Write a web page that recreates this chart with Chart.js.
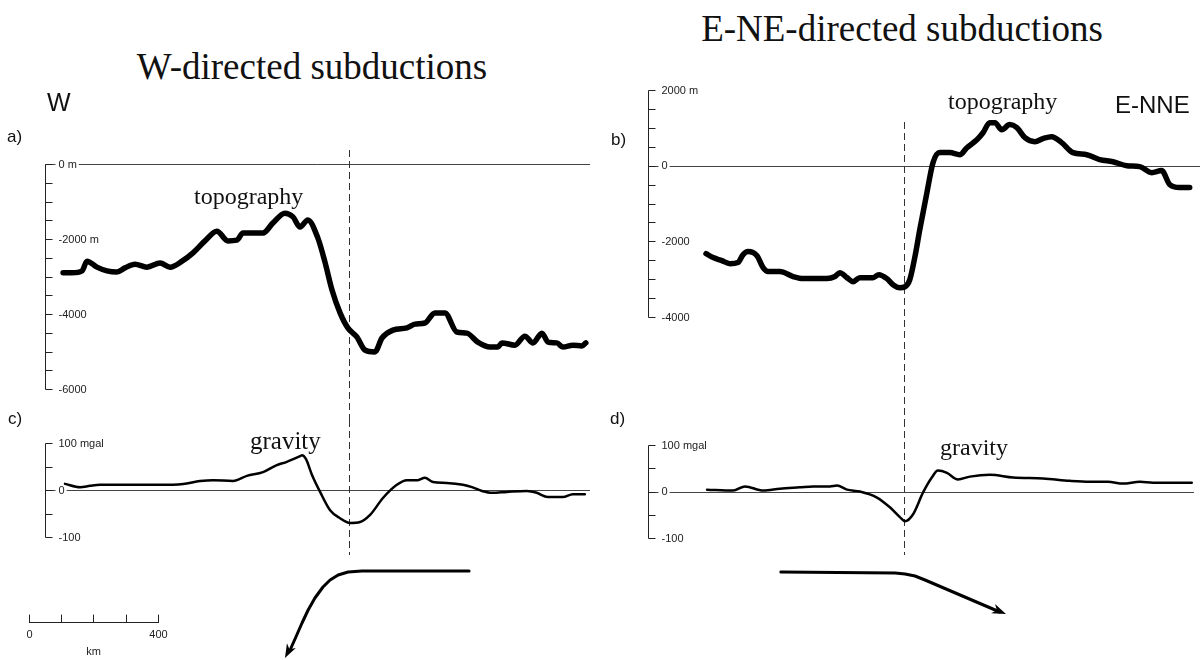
<!DOCTYPE html>
<html>
<head>
<meta charset="utf-8">
<script src="https://cdn.jsdelivr.net/npm/chart.js@4.4.1/dist/chart.umd.min.js"></script>
<style>
  html, body { margin: 0; padding: 0; background: #fff; }
  #page { position: relative; width: 1202px; height: 660px; overflow: hidden; font-family: "Liberation Sans", Arial, sans-serif; color: #111; }
  #page canvas { position: absolute; }
  .lbl { position: absolute; white-space: nowrap; line-height: 1; }
  .serif { font-family: "Liberation Serif", "Times New Roman", serif; }
  .mid { transform: translateX(-50%); }
</style>
</head>
<body>
<div id="page">
  <canvas id="topoW" width="600" height="310" style="left:0;top:110px"></canvas>
  <canvas id="gravW" width="600" height="240" style="left:0;top:420px"></canvas>
  <canvas id="topoE" width="602" height="340" style="left:600px;top:80px"></canvas>
  <canvas id="gravE" width="602" height="240" style="left:600px;top:420px"></canvas>

  <div class="lbl serif mid" style="left:312px;top:48px;font-size:37px">W-directed subductions</div>
  <div class="lbl serif mid" style="left:902px;top:10px;font-size:37px">E-NE-directed subductions</div>
  <div class="lbl" style="left:47px;top:90px;font-size:25px">W</div>
  <div class="lbl" style="left:1115px;top:93px;font-size:24px">E-NNE</div>
  <div class="lbl" style="left:7px;top:128px;font-size:17px">a)</div>
  <div class="lbl" style="left:611px;top:131px;font-size:17px">b)</div>
  <div class="lbl" style="left:8px;top:410px;font-size:17px">c)</div>
  <div class="lbl" style="left:610px;top:410px;font-size:17px">d)</div>
  <div class="lbl serif" style="left:194px;top:184px;font-size:24px">topography</div>
  <div class="lbl serif" style="left:948px;top:89px;font-size:24px">topography</div>
  <div class="lbl serif" style="left:250px;top:428px;font-size:25px">gravity</div>
  <div class="lbl serif" style="left:940px;top:435px;font-size:24px">gravity</div>
</div>

<script>
// distances in km from the left axis of each profile
const topoKmW = [56, 84, 115, 130, 161, 192, 223, 248, 279, 316, 357, 388, 425, 459, 496, 533, 567, 595, 614, 676,
    707, 744, 769, 791, 815, 846, 868, 890, 915, 939, 967, 992, 1023, 1045, 1079, 1122, 1147, 1178, 1209, 1240,
    1277, 1308, 1342, 1380, 1404, 1417, 1457, 1488, 1513, 1541, 1560, 1587, 1606, 1637, 1665, 1677];
const topoW = [-2900, -2900, -2850, -2590, -2750, -2850, -2880, -2770, -2670, -2750, -2640, -2750, -2590, -2370, -2050, -1790, -2050, -2030, -1840, -1840,
    -1570, -1310, -1410, -1680, -1490, -1970, -2610, -3360, -3970, -4370, -4610, -4960, -5010, -4640, -4430, -4370, -4270, -4240, -3970, -3970,
    -4480, -4510, -4750, -4880, -4880, -4770, -4830, -4590, -4770, -4510, -4750, -4770, -4880, -4830, -4850, -4770];

const gravKmW = [62, 109, 140, 171, 273, 357, 428, 481, 521, 583, 626, 676, 719, 750, 791, 797, 809, 828, 853, 884,
    915, 946, 977, 1008, 1048, 1091, 1122, 1156, 1178, 1203, 1246, 1296, 1324, 1355, 1386, 1432, 1494, 1525, 1559, 1606,
    1637, 1674];
const gravW = [13, 6, 9, 11, 11, 11, 13, 19, 21, 19, 30, 38, 53, 60, 72, 74, 66, 32, -4, -43,
    -60, -70, -68, -53, -17, 11, 21, 21, 26, 17, 15, 11, 6, -2, -6, -4, -2, -6, -15, -15,
    -9, -9];

const topoKmE = [180, 202, 229, 254, 279, 295, 310, 338, 357, 372, 409, 450, 481, 555, 580, 595, 617, 636, 657, 698,
    716, 741, 760, 781, 797, 812, 828, 843, 865, 884, 905, 936, 967, 989, 1020, 1039, 1060, 1076, 1097, 1122,
    1144, 1169, 1200, 1225, 1252, 1283, 1318, 1361, 1401, 1442, 1485, 1525, 1562, 1593, 1618, 1649, 1680];
const topoE = [-2325, -2430, -2510, -2590, -2560, -2350, -2270, -2380, -2695, -2800, -2800, -2930, -2985, -2985, -2930, -2830, -2960, -3065, -2960, -2960,
    -2880, -2985, -3145, -3225, -3200, -3010, -2400, -1690, -715, 80, 345, 345, 290, 475, 685, 870, 1135, 1135, 950, 1085,
    1005, 740, 635, 715, 765, 610, 345, 290, 160, 105, 0, -25, -185, -130, -500, -580, -580];

const gravKmE = [183, 264, 301, 357, 409, 471, 512, 564, 586, 617, 657, 710, 750, 781, 797, 822, 853, 880, 899, 927,
    961, 998, 1060, 1132, 1225, 1308, 1370, 1426, 1473, 1525, 1566, 1628, 1686];
const gravE = [4, 2, 11, 2, 6, 9, 11, 11, 13, 4, 0, -13, -34, -55, -64, -49, -2, 30, 45, 40,
    26, 32, 36, 30, 28, 23, 21, 21, 17, 21, 19, 19, 19];

// axis ticks and their labels ('' = unlabelled minor tick)
const topoTicksW = [0, -500, -1000, -1500, -2000, -2500, -3000, -3500, -4000, -4500, -5000, -5500, -6000];
const topoLabelsW = ['0 m', '', '', '', '-2000 m', '', '', '', '-4000', '', '', '', '-6000'];
const topoTicksE = [2000, 1500, 1000, 500, 0, -500, -1000, -1500, -2000, -2500, -3000, -3500, -4000];
const topoLabelsE = ['2000 m', '', '', '', '0', '', '', '', '-2000', '', '', '', '-4000'];
const gravTicks = [100, 50, 0, -50, -100];
const gravLabels = ['100 mgal', '', '0', '', '-100'];

// trench position (km) and scale bar
const trenchKmW = 942;
const trenchKmE = 794;
const scaleKm = [0, 100, 200, 300, 400];
const scaleLabels = ['0', '', '', '', '400'];

// schematic slab arrows: [km, px below the gravity panel]
const slabW = [[1315, 34], [983, 34], [940, 35], [909, 38], [884, 43], [862, 50], [837, 61], [816, 73], [797, 86], [778, 100], [760, 113], [744, 121]];
const slabE = [[412, 34], [766, 35], [797, 36], [828, 38], [859, 42], [1091, 74], [1110, 76]];

const FONT = '"Liberation Sans", Arial, sans-serif';

const profilePlugin = {
    id: 'profile',
    beforeDatasetsDraw(chart, args, o) {
        const ctx = chart.ctx, x = chart.scales.x, y = chart.scales.y;
        const ax = chart.chartArea.left + 0.5;
        ctx.save();
        // zero line
        const y0 = Math.round(y.getPixelForValue(0)) + 0.5;
        ctx.strokeStyle = '#444';
        ctx.lineWidth = 1;
        ctx.beginPath();
        ctx.moveTo(ax, y0);
        ctx.lineTo(chart.chartArea.right, y0);
        ctx.stroke();
        // axis + ticks (ticks point right)
        ctx.strokeStyle = '#222';
        ctx.beginPath();
        ctx.moveTo(ax, Math.round(y.getPixelForValue(o.ticks[0])) + 0.5);
        ctx.lineTo(ax, Math.round(y.getPixelForValue(o.ticks[o.ticks.length - 1])) + 0.5);
        o.ticks.forEach(v => {
            const p = Math.round(y.getPixelForValue(v)) + 0.5;
            ctx.moveTo(ax, p);
            ctx.lineTo(ax + 7, p);
        });
        ctx.stroke();
        // tick labels
        ctx.font = '11px ' + FONT;
        ctx.textBaseline = 'middle';
        ctx.textAlign = 'left';
        o.ticks.forEach((v, i) => {
            const t = o.labels[i];
            if (!t) return;
            const p = y.getPixelForValue(v);
            const w = ctx.measureText(t).width;
            ctx.fillStyle = '#fff';
            ctx.fillRect(ax + 10, p - 6, w + 5, 12);
            ctx.fillStyle = '#222';
            ctx.fillText(t, ax + 13, p + 0.5);
        });
        // trench (dashed)
        if (o.trench) {
            const px = Math.round(x.getPixelForValue(o.trench.km)) + 0.5;
            ctx.setLineDash([7, 4]);
            ctx.strokeStyle = '#333';
            ctx.beginPath();
            ctx.moveTo(px, o.trench.from);
            ctx.lineTo(px, o.trench.to);
            ctx.stroke();
            ctx.setLineDash([]);
        }
        ctx.restore();
    },
    afterDatasetsDraw(chart, args, o) {
        const ctx = chart.ctx, x = chart.scales.x;
        const bottom = chart.chartArea.bottom;
        ctx.save();
        if (o.arrow) {
            const pts = o.arrow.map(p => [x.getPixelForValue(p[0]), bottom + p[1]]);
            ctx.strokeStyle = '#000';
            ctx.fillStyle = '#000';
            ctx.lineWidth = 3;
            ctx.lineJoin = 'round';
            ctx.lineCap = 'round';
            ctx.beginPath();
            pts.slice(0, -1).forEach((p, i) => i ? ctx.lineTo(p[0], p[1]) : ctx.moveTo(p[0], p[1]));
            ctx.stroke();
            // arrow head
            const tip = pts[pts.length - 1], prev = pts[pts.length - 3];
            const a = Math.atan2(tip[1] - prev[1], tip[0] - prev[0]);
            const len = 14, half = 5;
            ctx.beginPath();
            ctx.moveTo(tip[0], tip[1]);
            ctx.lineTo(tip[0] - len * Math.cos(a) - half * Math.sin(a), tip[1] - len * Math.sin(a) + half * Math.cos(a));
            ctx.lineTo(tip[0] - len * 0.7 * Math.cos(a), tip[1] - len * 0.7 * Math.sin(a));
            ctx.lineTo(tip[0] - len * Math.cos(a) + half * Math.sin(a), tip[1] - len * Math.sin(a) - half * Math.cos(a));
            ctx.closePath();
            ctx.fill();
        }
        if (o.scaleBar) {
            const sb = o.scaleBar;
            const px = km => Math.round(x.getPixelForValue(sb.startKm + km)) + 0.5;
            ctx.strokeStyle = '#222';
            ctx.lineWidth = 1;
            ctx.beginPath();
            ctx.moveTo(px(scaleKm[0]), sb.y + 0.5);
            ctx.lineTo(px(scaleKm[scaleKm.length - 1]), sb.y + 0.5);
            scaleKm.forEach(k => {
                ctx.moveTo(px(k), sb.y + 0.5);
                ctx.lineTo(px(k), sb.y - 7);
            });
            ctx.stroke();
            ctx.font = '11px ' + FONT;
            ctx.fillStyle = '#222';
            ctx.textAlign = 'center';
            ctx.textBaseline = 'alphabetic';
            scaleKm.forEach((k, i) => { if (scaleLabels[i]) ctx.fillText(scaleLabels[i], px(k), sb.y + 16); });
            ctx.fillText('km', px(scaleKm[2]), sb.y + 33);
        }
        ctx.restore();
    }
};

function profileChart(id, km, vals, width, xMax, yMin, yMax, padding, extra) {
    return new Chart(document.getElementById(id), {
        type: 'line',
        data: {
            datasets: [{
                data: km.map((k, i) => ({ x: k, y: vals[i] })),
                borderColor: '#000',
                borderWidth: width,
                borderJoinStyle: 'round',
                borderCapStyle: 'round',
                pointRadius: 0,
                cubicInterpolationMode: 'monotone',
                clip: false,
            }],
        },
        options: {
            responsive: false,
            animation: false,
            devicePixelRatio: 1,
            events: [],
            layout: { padding: padding },
            scales: {
                x: { type: 'linear', min: 0, max: xMax, display: false },
                y: { type: 'linear', min: yMin, max: yMax, display: false },
            },
            plugins: {
                legend: { display: false },
                tooltip: { enabled: false },
                profile: extra,
            },
        },
        plugins: [profilePlugin],
    });
}

profileChart('topoW', topoKmW, topoW, 5.5, 1690, -6000, 0,
    { left: 45, right: 10, top: 54, bottom: 31 },
    { ticks: topoTicksW, labels: topoLabelsW, trench: { km: trenchKmW, from: 40, to: 310 } });

profileChart('gravW', gravKmW, gravW, 2.5, 1690, -100, 100,
    { left: 45, right: 10, top: 23, bottom: 123 },
    { ticks: gravTicks, labels: gravLabels, trench: { km: trenchKmW, from: 0, to: 135 },
      arrow: slabW, scaleBar: { startKm: -50, y: 202 } });

profileChart('topoE', topoKmE, topoE, 5.5, 1712, -4000, 2000,
    { left: 48, right: 2, top: 10, bottom: 103 },
    { ticks: topoTicksE, labels: topoLabelsE, trench: { km: trenchKmE, from: 42, to: 340 } });

profileChart('gravE', gravKmE, gravE, 2.5, 1693, -100, 100,
    { left: 48, right: 8, top: 25, bottom: 122 },
    { ticks: gravTicks, labels: gravLabels, trench: { km: trenchKmE, from: 0, to: 135 },
      arrow: slabE });
</script>
</body>
</html>
